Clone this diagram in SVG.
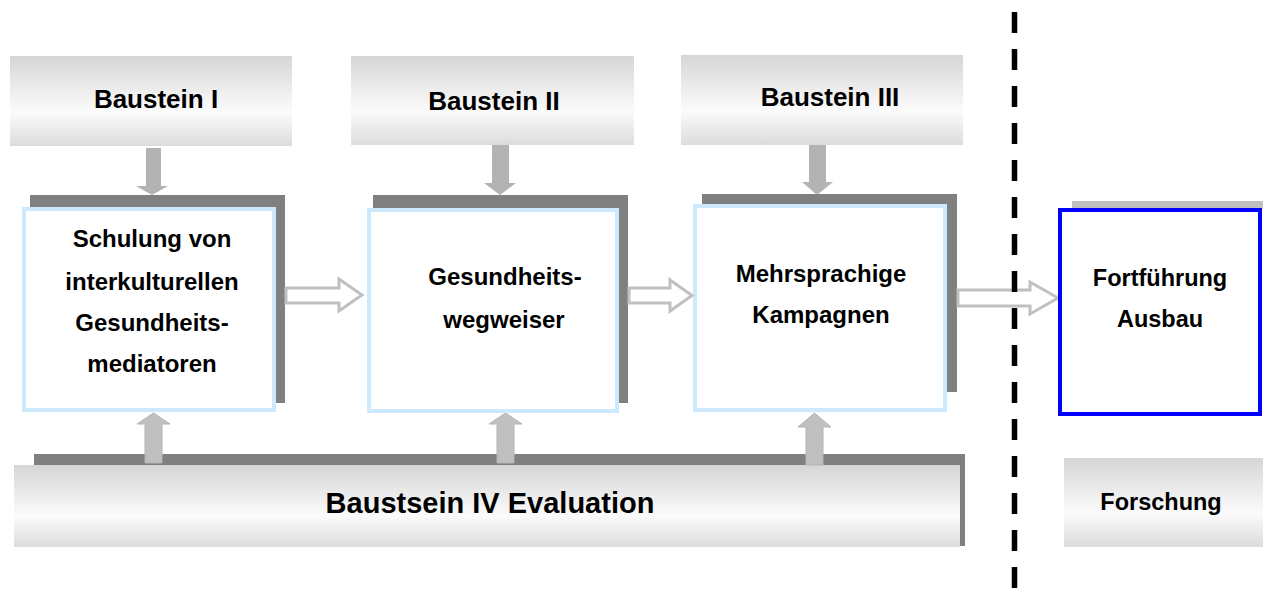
<svg xmlns="http://www.w3.org/2000/svg" width="1263" height="599" viewBox="0 0 1263 599">
<defs>
<linearGradient id="g" x1="0" y1="0" x2="0" y2="1">
<stop offset="0" stop-color="#d6d6d6"/>
<stop offset="0.62" stop-color="#fbfbfb"/>
<stop offset="1" stop-color="#dcdcdc"/>
</linearGradient>
<style>
text{font-family:"Liberation Sans",Arial,sans-serif;font-weight:bold;fill:#000;text-anchor:middle}
.hd{font-size:26px}
.in{font-size:24px}
.big{font-size:29px}
.grad{fill:url(#g)}
.sh{fill:#808080}
.lb{fill:#fff;stroke:#cde9fd;stroke-width:4}
.dn{fill:#b3b3b3}
.up{fill:#c0c0c0;stroke:#b4b4b4;stroke-width:1}
.ra{fill:#fff;stroke:#c0c0c0;stroke-width:3;stroke-linejoin:miter}
</style>
</defs>
<rect width="1263" height="599" fill="#fff"/>

<g id="baustein1">
<rect class="grad" x="10" y="56" width="282" height="90"/>
<text class="hd" x="156" y="108">Baustein I</text>
</g>
<g id="baustein2">
<rect class="grad" x="351" y="56" width="283" height="89"/>
<text class="hd" x="494" y="110">Baustein II</text>
</g>
<g id="baustein3">
<rect class="grad" x="681" y="55" width="282" height="90"/>
<text class="hd" x="830" y="106">Baustein III</text>
</g>

<g id="bottom-bar">
<rect class="sh" x="34" y="454" width="931" height="92"/>
<rect class="grad" x="14" y="465" width="946" height="82"/>
<text class="big" x="490" y="513">Baustsein IV Evaluation</text>
</g>

<g id="connectors">
<polygon class="dn" points="146,148 161,148 161,186 168,186 152,195 136,186 146,186"/>
<polygon class="dn" points="492,145 509,145 509,183 516,183 500,195 484,183 492,183"/>
<polygon class="dn" points="809,145 826,145 826,182 833,182 817,195 802,182 809,182"/>
<polygon class="up" points="145,463 162,463 162,424 170,424 153.5,413 137,424 145,424"/>
<polygon class="up" points="497,463 514,463 514,424 522,424 505.5,413 489,424 497,424"/>
<polygon class="up" points="806,465 823,465 823,427 831,427 814.5,413 798,427 806,427"/>
</g>

<g id="box1">
<rect class="sh" x="30" y="195" width="255" height="208"/>
<rect class="lb" x="24" y="209" width="250" height="201"/>
<text class="in" x="152" y="247">Schulung von</text>
<text class="in" x="152" y="290">interkulturellen</text>
<text class="in" x="152" y="331">Gesundheits-</text>
<text class="in" x="152" y="372">mediatoren</text>
</g>
<g id="box2">
<rect class="sh" x="373" y="195" width="255" height="208"/>
<rect class="lb" x="369" y="210" width="248" height="201"/>
<text class="in" x="505" y="285">Gesundheits-</text>
<text class="in" x="504" y="328">wegweiser</text>
</g>
<g id="box3">
<rect class="sh" x="702" y="194" width="255" height="198"/>
<rect class="lb" x="695" y="206" width="250" height="204"/>
<text class="in" x="821" y="282">Mehrsprachige</text>
<text class="in" x="821" y="323">Kampagnen</text>
</g>

<g id="arrows-right">
<polygon class="ra" points="286,288 339,288 339,279 362,295 339,311 339,303 286,303"/>
<polygon class="ra" points="629,288 670,288 670,280 692,295.5 670,311 670,303 629,303"/>
<polygon class="ra" points="958,290 1030,290 1030,282 1058,298 1030,314 1030,306 958,306"/>
</g>

<g id="divider">
<line x1="1014.5" y1="12" x2="1014.5" y2="590" stroke="#000" stroke-width="5.5" stroke-dasharray="21 16"/>
</g>

<g id="box4">
<rect x="1072" y="201" width="191" height="8" fill="#c0c0c0"/>
<rect x="1060" y="210" width="200" height="204" fill="#fff" stroke="#0000ff" stroke-width="4"/>
<text class="in" x="1160" y="286" style="font-size:23.5px">Fortführung</text>
<text class="in" x="1160" y="327" style="font-size:23.5px">Ausbau</text>
</g>

<g id="forschung">
<rect class="grad" x="1064" y="458" width="199" height="89"/>
<text class="in" x="1161" y="510" style="font-size:23.5px">Forschung</text>
</g>
</svg>
